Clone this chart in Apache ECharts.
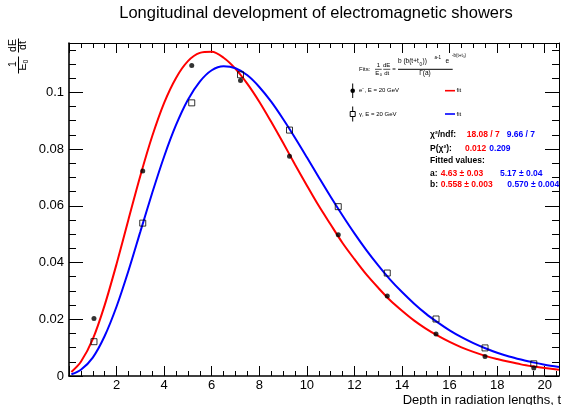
<!DOCTYPE html>
<html><head><meta charset="utf-8">
<script src="https://cdn.jsdelivr.net/npm/echarts@6/dist/echarts.min.js"></script>
<style>html,body{margin:0;padding:0;background:#fff}#c{width:562px;height:405px}</style>
</head><body><div id="c"></div>
<script>
// ---- data ----
const tData = [1.05, 3.10, 5.16, 7.21, 9.27, 11.32, 13.38, 15.43, 17.49, 19.54];
const eData = [0.0203, 0.0723, 0.1095, 0.1042, 0.0775, 0.0498, 0.0282, 0.0148, 0.0069, 0.0028];
const gData = [0.0121, 0.0539, 0.0963, 0.1062, 0.0867, 0.0597, 0.0363, 0.0201, 0.0099, 0.0043];
const tFit = [0.1, 0.5, 1, 1.5, 2, 2.5, 3, 3.5, 4, 4.5, 5, 5.5, 6, 6.5, 7, 7.5, 8, 8.5, 9, 9.5, 10, 10.5, 11, 11.5, 12, 12.5, 13, 13.5, 14, 14.5, 15, 15.5, 16, 16.5, 17, 17.5, 18, 18.5, 19, 19.5, 20, 20.6];
const eFit = [0.0014, 0.0050, 0.0130, 0.0250, 0.0395, 0.0552, 0.0706, 0.0846, 0.0963, 0.1051, 0.1110, 0.1139, 0.1143, 0.1122, 0.1083, 0.1030, 0.0967, 0.0896, 0.0822, 0.0746, 0.0672, 0.0600, 0.0534, 0.0469, 0.0412, 0.0358, 0.0311, 0.0267, 0.0230, 0.0196, 0.0167, 0.0142, 0.0120, 0.0101, 0.0085, 0.0071, 0.0060, 0.0050, 0.0041, 0.0034, 0.0028, 0.0022];
const gFit = [0.0006, 0.0022, 0.0065, 0.0141, 0.0245, 0.0371, 0.0509, 0.0646, 0.0774, 0.0885, 0.0974, 0.1038, 0.1078, 0.1092, 0.1085, 0.1060, 0.1019, 0.0967, 0.0906, 0.0840, 0.0771, 0.0701, 0.0632, 0.0566, 0.0503, 0.0444, 0.0390, 0.0340, 0.0296, 0.0256, 0.0220, 0.0189, 0.0161, 0.0137, 0.0116, 0.0098, 0.0082, 0.0069, 0.0058, 0.0048, 0.0040, 0.0032];
const xTicks = [2, 4, 6, 8, 10, 12, 14, 16, 18, 20];
const yTicks = [0, 0.02, 0.04, 0.06, 0.08, 0.1];

const FONT = '"Liberation Sans", Arial, Helvetica, sans-serif';
const RED = '#ff0000', BLUE = '#0000ff';

function txt(x, y, s, o) {
  o = o || {};
  const st = {
    text: s, fontSize: o.fs || 10, fontFamily: FONT, fontWeight: o.bold ? 'bold' : 'normal',
    fill: o.color || '#000',
    align: o.align || 'left', textAlign: o.align || 'left',
    verticalAlign: 'middle', textVerticalAlign: 'middle'
  };
  const e = { type: 'text', x: x, y: y, style: st, z: 100 };
  if (o.rot) e.rotation = o.rot;
  return e;
}
function ln(x1, y1, x2, y2, c, w) {
  return { type: 'line', shape: { x1, y1, x2, y2 }, style: { stroke: c || '#000', lineWidth: w || 1 }, z: 100 };
}

const R = Math.PI / 2;
const graphics = [
  txt(316, 13, 'Longitudinal development of electromagnetic showers', { fs: 16.5, align: 'center' }),
  txt(561, 400, 'Depth in radiation lengths, t', { fs: 13, align: 'right' }),
  txt(13.5, 45.5, 'dE', { fs: 10.5, align: 'center', rot: R }),
  txt(23.5, 45.5, 'dt', { fs: 10.5, align: 'center', rot: R }),
  ln(18.5, 38.5, 18.5, 52.5, '#000', 1),
  txt(13.5, 64, '1', { fs: 10.5, align: 'center', rot: R }),
  txt(23.5, 67, 'E', { fs: 10.5, align: 'center', rot: R }),
  txt(26.5, 61.5, '0', { fs: 7, align: 'center', rot: R }),
  ln(18.5, 56.5, 18.5, 73.5, '#000', 1),

  txt(359, 69, 'Fits:', { fs: 6 }),
  txt(378.3, 65.5, '1', { fs: 6, align: 'center' }),
  ln(375, 69.3, 381.7, 69.3, '#000', 0.7),
  txt(377.3, 73.5, 'E', { fs: 6, align: 'center' }),
  txt(379.8, 75, '0', { fs: 4, align: 'left' }),
  txt(386.7, 65.5, 'dE', { fs: 6, align: 'center' }),
  ln(383.3, 69.3, 390.3, 69.3, '#000', 0.7),
  txt(386.7, 73.2, 'dt', { fs: 6, align: 'center' }),
  txt(394, 69.3, '=', { fs: 6, align: 'center' }),
  txt(398, 61.7, 'b (b(t+t', { fs: 6.5 }),
  txt(419.5, 64.6, '0', { fs: 4.5 }),
  txt(422.5, 61.7, '))', { fs: 6.5 }),
  txt(434.5, 57.3, 'a-1', { fs: 4.5 }),
  txt(445.5, 61.7, 'e', { fs: 6.5 }),
  txt(452, 56.2, '-b(t+t\u2080)', { fs: 4.5 }),
  ln(398, 69.3, 452.7, 69.3, '#000', 1),
  txt(425, 73.5, '\u0393(a)', { fs: 6.5, align: 'center' }),

  ln(352.7, 83.5, 352.7, 98, '#000', 1),
  { type: 'circle', shape: { cx: 352.7, cy: 90.7, r: 2.3 }, style: { fill: '#000' }, z: 101 },
  txt(359, 90.7, 'e', { fs: 6 }),
  txt(362.3, 88.3, '-', { fs: 4.5 }),
  txt(364.5, 90.7, ', E = 20 GeV', { fs: 6 }),
  ln(445, 90.7, 455, 90.7, RED, 1.6),
  txt(456.5, 90.7, 'fit', { fs: 6 }),
  ln(352.7, 106.5, 352.7, 121.5, '#000', 1),
  { type: 'rect', shape: { x: 350.2, y: 111.5, width: 5, height: 5 }, style: { fill: '#fff', stroke: '#000', lineWidth: 1 }, z: 101 },
  txt(359, 114, '\u03B3, E = 20 GeV', { fs: 6 }),
  ln(445, 114, 455, 114, BLUE, 1.6),
  txt(456.5, 114, 'fit', { fs: 6 }),

  txt(430, 135, '\u03C7\u00B2/ndf:', { fs: 8.5, bold: true }),
  txt(466.7, 135, '18.08 / 7', { fs: 8.5, bold: true, color: RED }),
  txt(506.7, 135, '9.66 / 7', { fs: 8.5, bold: true, color: BLUE }),
  txt(430, 148.3, 'P(\u03C7\u00B2):', { fs: 8.5, bold: true }),
  txt(465, 148.3, '0.012', { fs: 8.5, bold: true, color: RED }),
  txt(489.3, 148.3, '0.209', { fs: 8.5, bold: true, color: BLUE }),
  txt(430, 161, 'Fitted values:', { fs: 8.5, bold: true }),
  txt(430, 173.3, 'a:', { fs: 8.5, bold: true }),
  txt(440.7, 173.3, '4.63 \u00B1 0.03', { fs: 8.5, bold: true, color: RED }),
  txt(500, 173.3, '5.17 \u00B1 0.04', { fs: 8.5, bold: true, color: BLUE }),
  txt(430, 185, 'b:', { fs: 8.5, bold: true }),
  txt(440.7, 185, '0.558 \u00B1 0.003', { fs: 8.5, bold: true, color: RED }),
  txt(507.3, 185, '0.570 \u00B1 0.004', { fs: 8.5, bold: true, color: BLUE })
];

const XMAX = 20.6, YMAX = 0.1174;
function xAx(pos, interval, len, labels, line) {
  return {
    type: 'value', position: pos, min: 0, max: XMAX, interval: interval,
    axisLine: { show: line, onZero: false, lineStyle: { color: '#000', width: pos === 'bottom' ? 1.6 : 1 } },
    axisTick: { show: true, inside: true, length: len, lineStyle: { color: '#000', width: 1 } },
    axisLabel: labels ? {
      show: true, margin: 3, fontSize: 13, fontFamily: FONT, color: '#000',
      showMinLabel: true, showMaxLabel: true,
      formatter: v => xTicks.some(t => Math.abs(t - v) < 1e-6) ? String(Math.round(v)) : ''
    } : { show: false },
    splitLine: { show: false }
  };
}
function yAx(pos, interval, len, labels, line) {
  return {
    type: 'value', position: pos, min: 0, max: YMAX, interval: interval,
    axisLine: { show: line, onZero: false, lineStyle: { color: '#000', width: pos === 'left' ? 1.6 : 1 } },
    axisTick: { show: true, inside: true, length: len, lineStyle: { color: '#000', width: 1 } },
    axisLabel: labels ? {
      show: true, margin: 5, fontSize: 13, fontFamily: FONT, color: '#000',
      showMinLabel: true, showMaxLabel: true,
      formatter: v => yTicks.some(t => Math.abs(t - v) < 1e-9) ? String(+v.toFixed(2)) : ''
    } : { show: false },
    splitLine: { show: false }
  };
}

const chart = echarts.init(document.getElementById('c'), null, { renderer: 'canvas' });
chart.setOption({
  backgroundColor: '#fff',
  animation: false,
  grid: { left: 69, right: 2, top: 43, bottom: 29, containLabel: false },
  xAxis: [xAx('bottom', 2, 10, true, true), xAx('bottom', 0.5, 5, false, false), xAx('top', 2, 10, false, true), xAx('top', 0.5, 5, false, false)],
  yAxis: [yAx('left', 0.02, 14, true, true), yAx('left', 0.005, 7, false, false), yAx('right', 0.02, 14, false, true), yAx('right', 0.005, 7, false, false)],
  series: [
    { type: 'line', name: 'e fit', data: tFit.map((t, i) => [t, eFit[i]]), smooth: 0.3, showSymbol: false, symbol: 'none',
      lineStyle: { color: RED, width: 2 }, z: 3 },
    { type: 'line', name: 'g fit', data: tFit.map((t, i) => [t, gFit[i]]), smooth: 0.3, showSymbol: false, symbol: 'none',
      lineStyle: { color: BLUE, width: 2 }, z: 3 },
    { type: 'scatter', name: 'e-', data: tData.map((t, i) => [t, eData[i]]), symbol: 'circle', symbolSize: 5,
      itemStyle: { color: '#000' }, z: 5 },
    { type: 'scatter', name: 'gamma', data: tData.map((t, i) => [t, gData[i]]), symbol: 'rect', symbolSize: 6,
      itemStyle: { color: 'rgba(255,255,255,0)', borderColor: '#000', borderWidth: 1 }, z: 5 }
  ],
  graphic: graphics
});
</script></body></html>
